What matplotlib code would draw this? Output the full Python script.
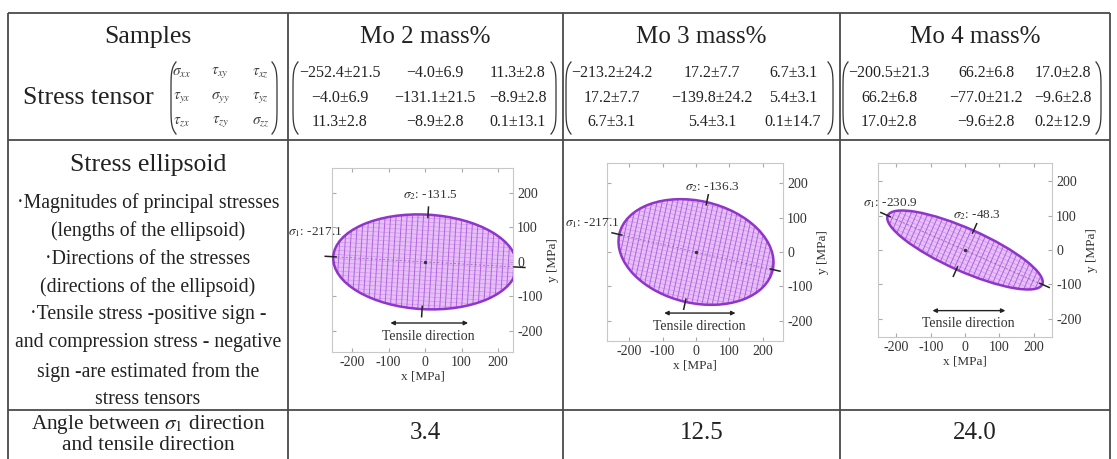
import numpy as np
import matplotlib
matplotlib.use("Agg")
import matplotlib.pyplot as plt
from matplotlib.patches import Ellipse

plt.rcParams['font.family'] = ['Liberation Serif', 'DejaVu Serif']
plt.rcParams['mathtext.fontset'] = 'stix'
plt.rcParams['axes.unicode_minus'] = False

# ---------------- data ----------------
samples = ["Mo 2 mass%", "Mo 3 mass%", "Mo 4 mass%"]
tensor_mo2 = [["−252.4±21.5", "−4.0±6.9", "11.3±2.8"],
              ["−4.0±6.9", "−131.1±21.5", "−8.9±2.8"],
              ["11.3±2.8", "−8.9±2.8", "0.1±13.1"]]
tensor_mo3 = [["−213.2±24.2", "17.2±7.7", "6.7±3.1"],
              ["17.2±7.7", "−139.8±24.2", "5.4±3.1"],
              ["6.7±3.1", "5.4±3.1", "0.1±14.7"]]
tensor_mo4 = [["−200.5±21.3", "66.2±6.8", "17.0±2.8"],
              ["66.2±6.8", "−77.0±21.2", "−9.6±2.8"],
              ["17.0±2.8", "−9.6±2.8", "0.2±12.9"]]
tensors = [tensor_mo2, tensor_mo3, tensor_mo4]
symbols = [[r'$\sigma_{xx}$', r'$\tau_{xy}$', r'$\tau_{xz}$'],
           [r'$\tau_{yx}$', r'$\sigma_{yy}$', r'$\tau_{yz}$'],
           [r'$\tau_{zx}$', r'$\tau_{zy}$', r'$\sigma_{zz}$']]
sigma1_labels = ["-217.1", "-217.1", "-230.9"]
sigma2_labels = ["-131.5", "-136.3", "-48.3"]
semi_major = [252, 235, 247]      # MPa
semi_minor = [137, 148, 62]       # MPa
angles = [3.4, 12.5, 24.0]        # deg between sigma1 and tensile direction
angle_labels = ["3.4", "12.5", "24.0"]
ticks = [-200, -100, 0, 100, 200]
desc_lines = ["·Magnitudes of principal stresses",
              "(lengths of the ellipsoid)",
              "·Directions of the stresses",
              "(directions of the ellipsoid)",
              "·Tensile stress -positive sign -",
              "and compression stress - negative",
              "sign -are estimated from the",
              "stress tensors"]

# ---------------- layout (pixels) ----------------
W, H = 1117, 459
fig = plt.figure(figsize=(W / 100, H / 100), dpi=100)
ax0 = fig.add_axes([0, 0, 1, 1])
ax0.set_xlim(0, W)
ax0.set_ylim(H, 0)
ax0.axis('off')

lc = '#4a4a4a'
col_x = [8, 288, 563, 840, 1110]
row_y = [13, 140, 410]
for x in col_x:
    ax0.plot([x, x], [row_y[0], H], color=lc, lw=1.3, solid_capstyle='butt')
for y in row_y:
    ax0.plot([col_x[0], col_x[-1]], [y, y], color=lc, lw=1.3, solid_capstyle='butt')

centers = [(col_x[i] + col_x[i + 1]) / 2 for i in range(4)]
tc = '#222222'

# header row
ax0.text(centers[0], 37, "Samples", ha='center', va='center', fontsize=18.5, color=tc)
for i, s in enumerate(samples):
    ax0.text(centers[i + 1], 37, s, ha='center', va='center', fontsize=18, color=tc)

# stress tensor row
ax0.text(88, 98, "Stress tensor", ha='center', va='center', fontsize=18.5, color=tc)
rows_y = [73, 98, 122]


def paren(xl, xr, yt, yb, d=5):
    t = np.linspace(0, 1, 60)
    y = yt + t * (yb - yt)
    s = (2 * t - 1) ** 6
    ax0.plot(xl + d * s, y, color='#333333', lw=0.9)
    ax0.plot(xr - d * s, y, color='#333333', lw=0.9)


sym_cols = [182, 220, 261]
for r in range(3):
    for c in range(3):
        ax0.text(sym_cols[c], rows_y[r], symbols[r][c], ha='center', va='center',
                 fontsize=11, color='#444444')
paren(171, 277, 62, 134)

num_cols = [[340, 435, 518], [612, 712, 793], [889, 986, 1063]]
paren_x = [(293, 556), (566, 833), (843, 1101)]
for k in range(3):
    for r in range(3):
        for c in range(3):
            ax0.text(num_cols[k][c], rows_y[r], tensors[k][r][c], ha='center',
                     va='center', fontsize=11.5, color=tc)
    paren(paren_x[k][0], paren_x[k][1], 62, 134)

# ellipsoid row, description
ax0.text(centers[0], 165, "Stress ellipsoid", ha='center', va='center', fontsize=18.5,
         color=tc)
desc_y = [203, 231, 259, 287, 315, 343, 372, 400]
for yy, line in zip(desc_y, desc_lines):
    ax0.text(centers[0], yy, line, ha='center', va='center', fontsize=14.2, color=tc)

# last row
ax0.text(centers[0], 424, r"Angle between $\sigma_1$ direction", ha='center',
         va='center', fontsize=15.3, color=tc)
ax0.text(centers[0], 445, "and tensile direction", ha='center', va='center',
         fontsize=15.3, color=tc)
for i, a in enumerate(angle_labels):
    ax0.text(centers[i + 1], 433, a, ha='center', va='center', fontsize=18, color=tc)

# ---------------- ellipse insets ----------------
boxes = [(332, 168, 513, 352), (607, 163, 783, 341), (878, 163, 1052, 337)]
xlims = [(-255, 241), (-266, 260), (-254, 254)]
ylims = [(-261, 272), (-258, 258), (-254, 254)]
s1_pos = [(-300, 87), (-310, 84), (-219, 137)]
s2_pos = [(14, 194), (48, 188), (35, 102)]

face = '#e8c0f8'
gridc = '#b062e0'
edgec = '#8f35c9'

for k in range(3):
    l, t, r, b = boxes[k]
    ax = fig.add_axes([l / W, 1 - b / H, (r - l) / W, (b - t) / H])
    ax.set_xlim(*xlims[k])
    ax.set_ylim(*ylims[k])
    for sp in ax.spines.values():
        sp.set_color('#c8c8c8')
        sp.set_linewidth(0.8)
    ax.set_xticks(ticks)
    ax.set_yticks(ticks)
    ax.tick_params(direction='in', length=3, color='#aaaaaa', labelsize=10,
                   labelcolor='#333333', top=True, right=True, left=True,
                   labelleft=False, labelright=True, pad=3)
    ax.yaxis.set_label_position('right')
    ax.set_xlabel("x [MPa]", fontsize=9.5, color='#333333', labelpad=1)
    ax.set_ylabel("y [MPa]", fontsize=9.5, color='#333333', labelpad=3)

    a, bb = semi_major[k], semi_minor[k]
    th = np.deg2rad(-angles[k])
    ct, st = np.cos(th), np.sin(th)
    ell = Ellipse((0, 0), 2 * a, 2 * bb, angle=-angles[k], facecolor=face,
                  edgecolor='none', zorder=1)
    ax.add_patch(ell)
    clip = Ellipse((0, 0), 2 * a, 2 * bb, angle=-angles[k], transform=ax.transData)
    # wireframe
    for u in np.arange(-a, a + 1, 15):
        v = np.array([-bb, bb])
        xs = u * ct - v * st
        ys = u * st + v * ct
        ln, = ax.plot(xs, ys, color=gridc, lw=0.7, zorder=2)
        ln.set_clip_path(clip)
    for v in np.arange(-bb, bb + 1, 12):
        u = np.array([-a, a])
        xs = u * ct - v * st
        ys = u * st + v * ct
        ln, = ax.plot(xs, ys, color=gridc, lw=0.5, alpha=0.45, zorder=2)
        ln.set_clip_path(clip)
    ax.add_patch(Ellipse((0, 0), 2 * a, 2 * bb, angle=-angles[k], facecolor='none',
                         edgecolor=edgec, lw=1.8, zorder=3))
    # principal axis (dashed) and centre
    ax.plot([-a * ct, a * ct], [-a * st, a * st], color='#6a4a80', lw=0.5,
            ls=(0, (3, 3)), alpha=0.7, zorder=3)
    ax.plot(0, 0, 'o', ms=1.5, color='#333333', zorder=4)
    # tip markers
    for sgn in (-1, 1):
        r0, r1 = a - 8, a + 22
        ax.plot([sgn * r0 * ct, sgn * r1 * ct], [sgn * r0 * st, sgn * r1 * st],
                color='#222222', lw=1.1, zorder=4, clip_on=False)
        r0, r1 = bb - 8, bb + 22
        ax.plot([-sgn * r0 * st, -sgn * r1 * st], [sgn * r0 * ct, sgn * r1 * ct],
                color='#222222', lw=1.1, zorder=4, clip_on=False)
    ax.text(*s1_pos[k], r'$\sigma_1$: ' + sigma1_labels[k], ha='center', va='center',
            fontsize=9.5, color='#333333', clip_on=False)
    ax.text(*s2_pos[k], r'$\sigma_2$: ' + sigma2_labels[k], ha='center', va='center',
            fontsize=9.5, color='#333333', clip_on=False)
    # tensile direction
    ax.annotate('', xy=(118, -177), xytext=(-95, -177),
                arrowprops=dict(arrowstyle='<|-|>', color='#222222', lw=1.0,
                                mutation_scale=6, shrinkA=0, shrinkB=0))
    ax.text(10, -215, "Tensile direction", ha='center', va='center', fontsize=10,
            color='#333333')

fig.savefig("out.png", dpi=100)
